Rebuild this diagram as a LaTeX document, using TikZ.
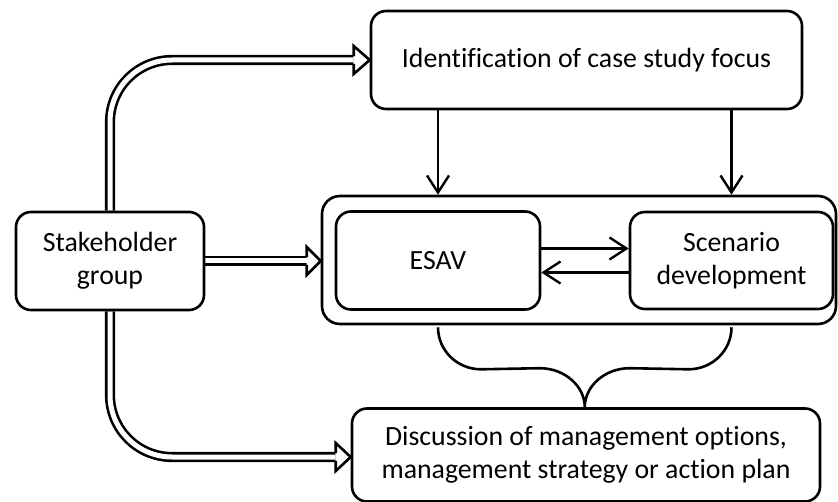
\documentclass[tikz,border=0pt]{standalone}
\usepackage{fontspec}
\setmainfont{Carlito}[Ligatures=NoCommon]
\usetikzlibrary{arrows.meta,calc,backgrounds}

% open block arrow head pointing right; #1 = tip coordinate, #2 = head length
\newcommand\blockhead[2]{%
  \fill[white] ($#1+(-#2,-14)$) -- #1 -- ($#1+(-#2,14)$) -- cycle;
  \draw[line width=2.6pt] ($#1+(-#2,-3.8)$) -- ($#1+(-#2,-14)$) -- #1
    -- ($#1+(-#2,14)$) -- ($#1+(-#2,3.8)$);}

\begin{document}
\begin{tikzpicture}[x=1pt,y=-1pt,
  box/.style={draw, line width=2.6pt, rounded corners=15pt, align=center,
    inner sep=0pt, font=\fontsize{27.8}{33}\selectfont},
  dbl/.style={draw, line width=2.6pt, double=white, double distance=5pt,
    rounded corners=62pt},
  thinarrow/.style={line width=2.4pt, -{Straight Barb[length=17pt,width=22pt]}},
  bracepath/.style={line width=2.6pt}]
\useasboundingbox (0,0) rectangle (838,502);

% boxes
\node[box, minimum width=431pt, minimum height=98pt] (focus) at (586.5,60)
  {Identification of case study focus};
\node[box, minimum width=188pt, minimum height=98pt] (stake) at (110,261)
  {Stakeholder\\group};
\node[box, rounded corners=18pt, minimum width=514pt, minimum height=128pt]
  (core) at (579,260) {};
\node[box, minimum width=204pt, minimum height=98pt] (esav) at (438,260.5)
  {ESAV};
\node[box, minimum width=203pt, minimum height=97pt] (scen) at (731.5,260.5)
  {Scenario\\development};
\node[box, minimum width=468pt, minimum height=93pt] (disc) at (586,455)
  {Discussion of management options,\\management strategy or action plan};

% tips of the block arrows
\coordinate (tipF) at (focus.west);
\coordinate (tipC) at (stake.east -| core.west);
\coordinate (tipD) at ([yshift=-2pt]disc.west);

\begin{scope}[on background layer]
  % stakeholder links (hollow block arrows)
  \draw[dbl] (stake.north) -- (stake.north |- tipF) -- ($(tipF)+(-16,0)$);
  \draw[dbl] (stake.south) -- (stake.south |- tipD) -- ($(tipD)+(-15,0)$);
  \draw[dbl] (stake.east) -- ($(tipC)+(-14,0)$);
  \blockhead{(tipF)}{16}
  \blockhead{(tipD)}{15}
  \blockhead{(tipC)}{14}
\end{scope}

% focus feeds both activities
\draw[thinarrow] (focus.south -| esav.north) -- (esav.north |- core.north);
\draw[thinarrow] (focus.south -| scen.north) -- (scen.north |- core.north);

% exchange between ESAV and scenario development
\draw[thinarrow] ([yshift=12pt]esav.east) -- ([yshift=12pt]scen.west);
\draw[thinarrow] ([yshift=-12pt]scen.west) -- ([yshift=-12pt]esav.east);

% brace gathering both activities into the discussion
\coordinate (bl) at ($(esav.south |- core.south)+(0,2)$);
\coordinate (br) at ($(scen.south |- core.south)+(0,2)$);
\coordinate (bm) at ($(bl)!0.5!(br)$);
\coordinate (bt) at (bm |- disc.north);
\draw[bracepath]
  (bl) .. controls ($(bl)+(0,23)$) and ($(bl)+(19,42)$) .. ($(bl)+(43,42)$)
  -- ($(bt)+(-45,-39)$)
  .. controls ($(bt)+(-20,-39)$) and ($(bt)+(0,-21)$) .. (bt)
  .. controls ($(bt)+(0,-21)$) and ($(bt)+(20,-39)$) .. ($(bt)+(45,-39)$)
  -- ($(br)+(-43,42)$)
  .. controls ($(br)+(-19,42)$) and ($(br)+(0,23)$) .. (br);
\end{tikzpicture}
\end{document}
